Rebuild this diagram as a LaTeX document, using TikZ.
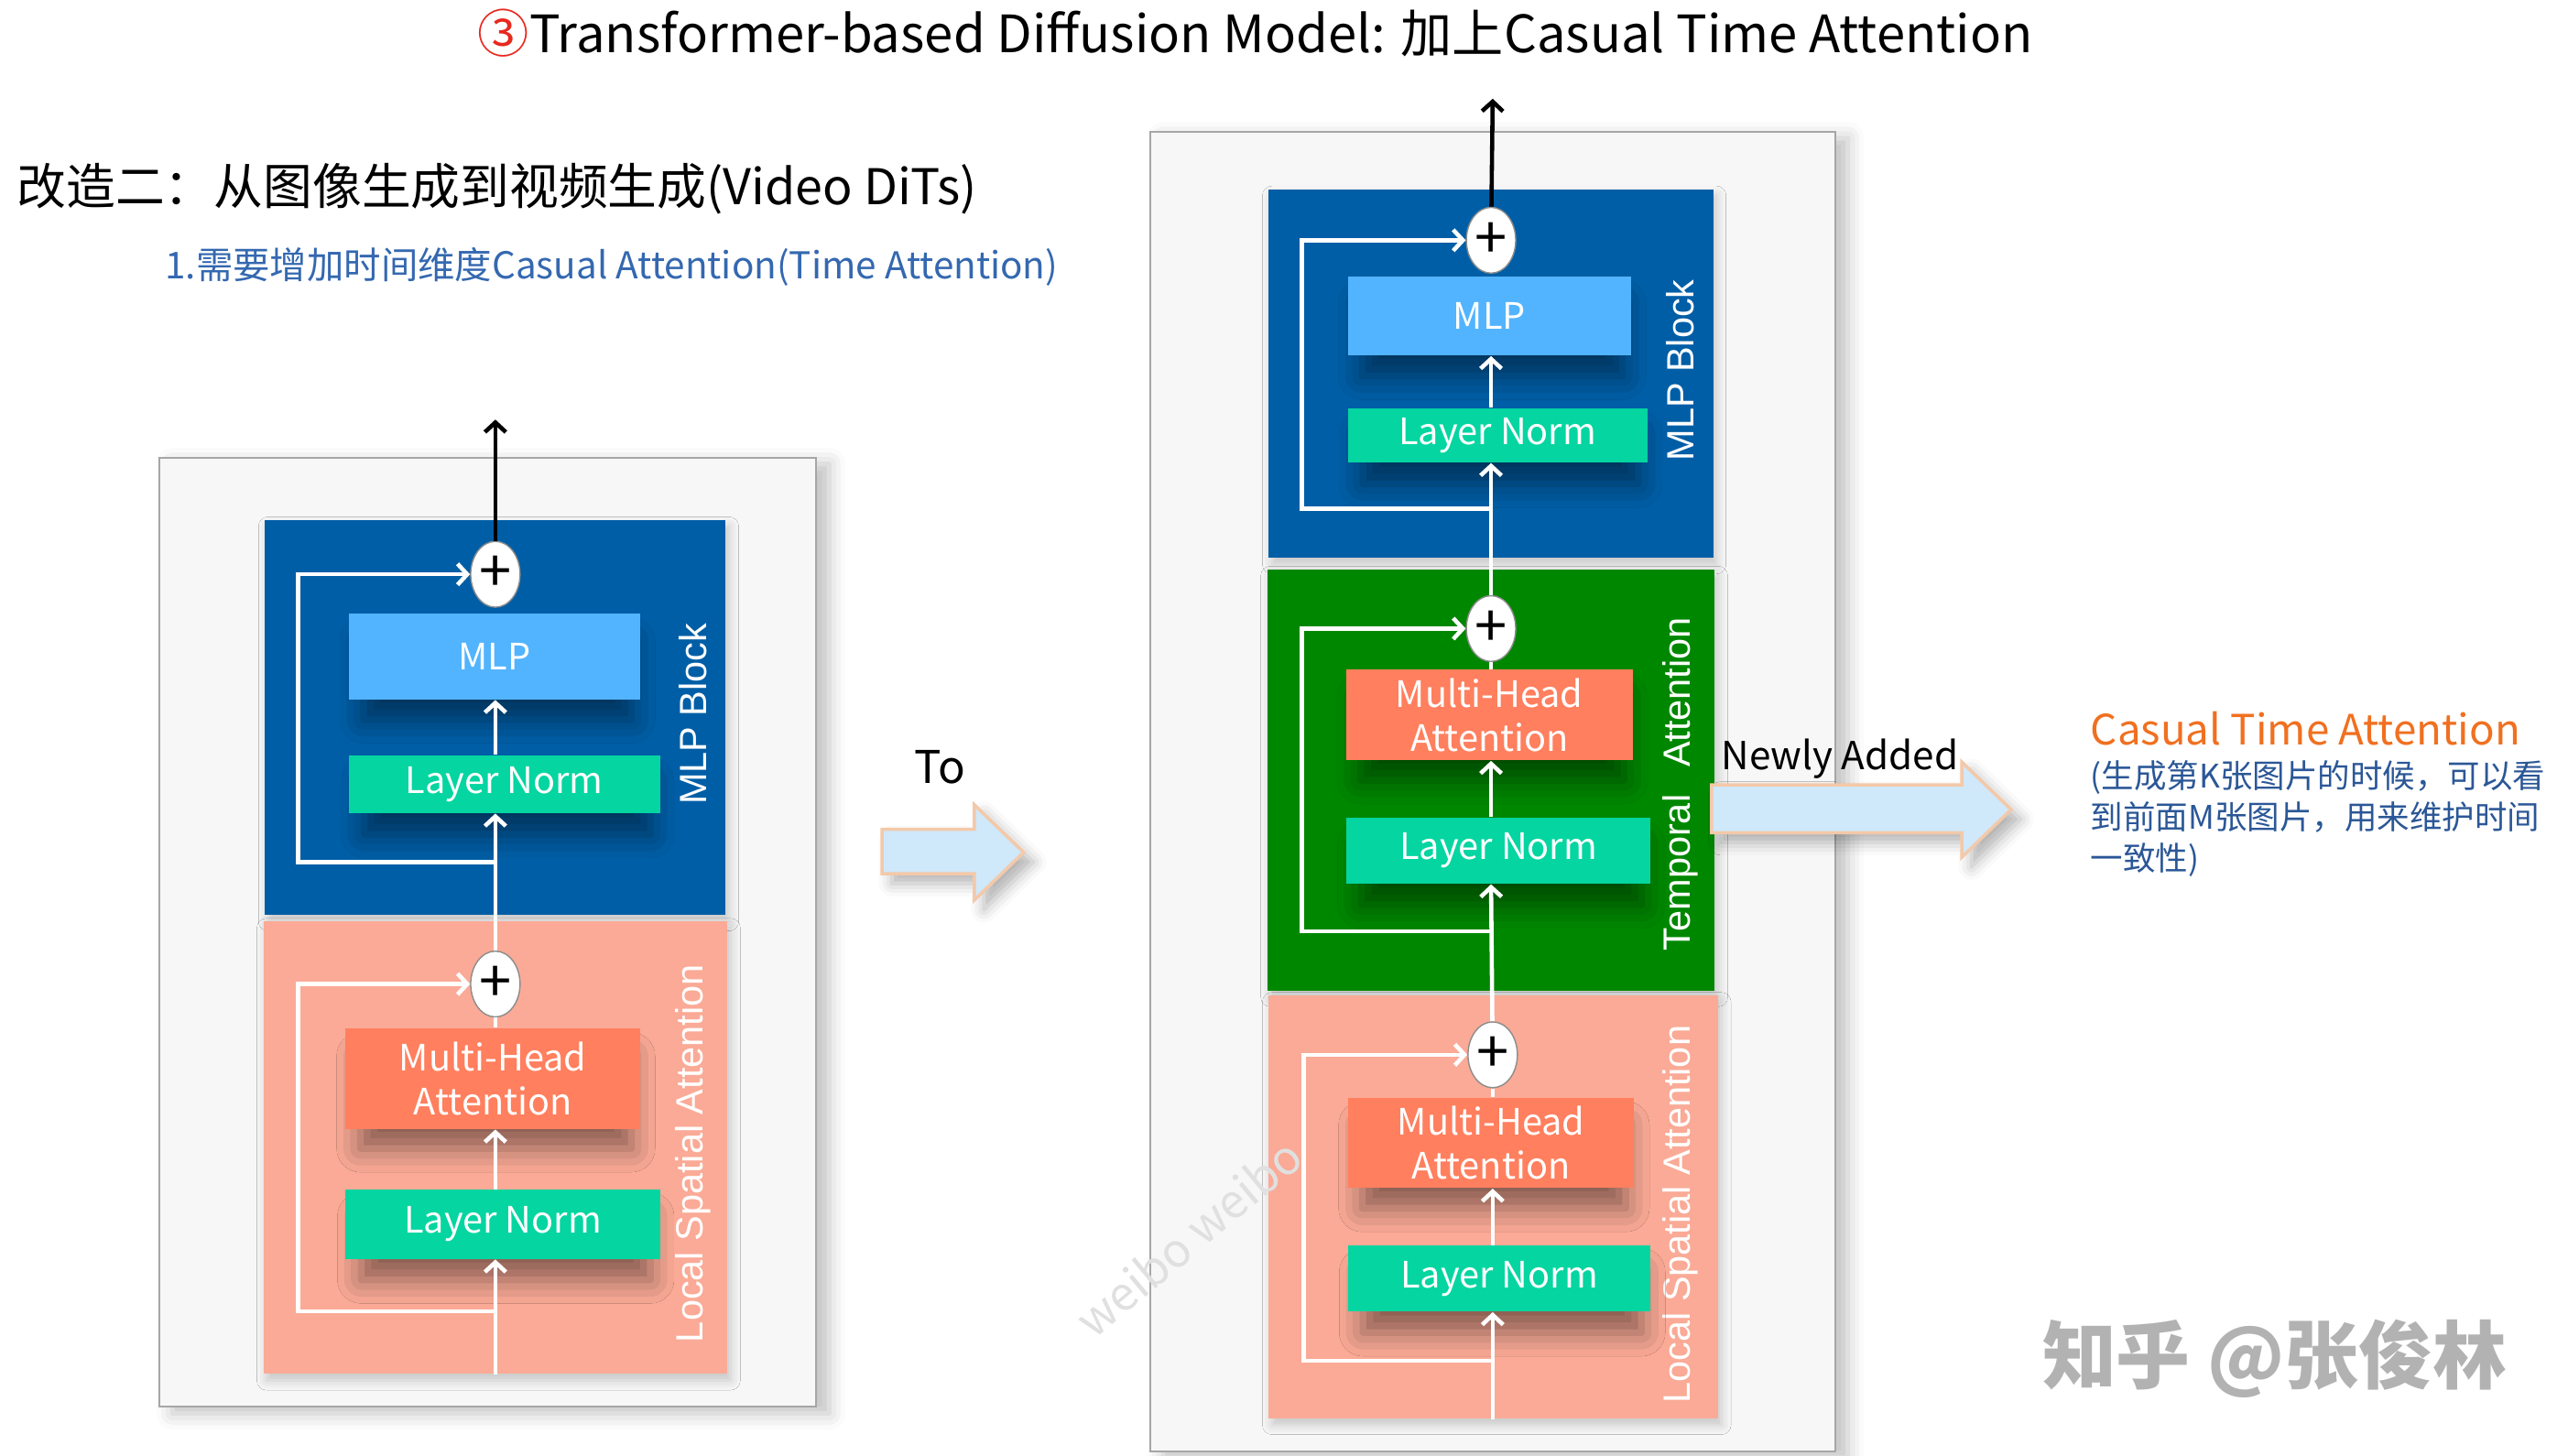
\documentclass[tikz,border=0pt]{standalone}
\usepackage{fontspec}
\setmainfont{Noto Sans CJK SC}
\newfontfamily\sidefont{Liberation Sans}
\usetikzlibrary{arrows.meta,shapes.geometric,shadows.blur,calc}

\definecolor{panelgray}{HTML}{F7F7F7}
\definecolor{mlpblue}{HTML}{005EA6}
\definecolor{mlpcyan}{HTML}{52B4FF}
\definecolor{normgreen}{HTML}{05D5A1}
\definecolor{salmon}{HTML}{FAAA96}
\definecolor{attcoral}{HTML}{FF7F5E}
\definecolor{tempgreen}{HTML}{008700}
\definecolor{arrowfill}{HTML}{CFE8FA}
\definecolor{arrowedge}{HTML}{F3C9A9}
\definecolor{circred}{HTML}{E8281E}
\definecolor{noteblue}{HTML}{3468B0}
\definecolor{darkblue}{HTML}{2B5797}
\definecolor{orangetxt}{HTML}{F07020}

\newlength\px
\setlength\px{0.1797mm}

\tikzset{
  panel/.style={draw=black!35, fill=panelgray, line width=0.6pt,
    blur shadow={shadow xshift=4pt, shadow yshift=-2pt, shadow blur radius=5pt, shadow opacity=25}},
  block/.style={inner sep=0pt,
    blur shadow={shadow xshift=1pt, shadow yshift=-2pt, shadow blur radius=3pt, shadow opacity=20}},
  unit/.style={inner sep=0pt, text=white, align=center, font=\fontsize{11.3}{13.6}\selectfont,
    blur shadow={shadow xshift=1pt, shadow yshift=-8pt, shadow scale=0.92, shadow blur radius=8pt, shadow opacity=45}},
  sidelbl/.style={rotate=90, text=white, inner sep=0pt, font=\sidefont\fontsize{11.8}{12}\selectfont},
  plus/.style={ellipse, draw=black!45, fill=white, line width=0.4pt, inner sep=0pt,
    minimum width=30\px, minimum height=40\px, font=\fontsize{18}{18}\selectfont},
  wline/.style={draw=white, line width=1.3pt},
  bline/.style={draw=black, line width=1.3pt},
  bigarrow/.style={draw=arrowedge, fill=arrowfill, line width=1pt, line join=miter,
    blur shadow={shadow xshift=3pt, shadow yshift=-3pt, shadow blur radius=4pt, shadow opacity=30}},
}

\begin{document}
\begin{tikzpicture}[x=\px, y=-\px, >={Straight Barb[length=3pt,width=6.5pt]}]
    \useasboundingbox (0,0) rectangle (1560.4,884.8);

    % Headings
    \node[anchor=west, inner sep=0pt, font=\fontsize{16}{18}\selectfont] (title) at (290,20)
        {{\color{circred}③}Transformer-based Diffusion Model: 加上Casual Time Attention};
    \node[anchor=west, inner sep=0pt, font=\fontsize{15.3}{18}\selectfont] (subtitle) at (10,115)
        {改造二：从图像生成到视频生成(Video DiTs)};
    \node[anchor=west, inner sep=0pt, text=noteblue, font=\fontsize{11.5}{14}\selectfont] (note) at (100,162)
        {1.需要增加时间维度Casual Attention(Time Attention)};

    % Left diagram
    \node[panel, minimum width=399\px, minimum height=577\px] (panelL) at (296.5,566.5) {};
    \node[block, fill=mlpblue, minimum width=280\px, minimum height=240\px] (mlpBlkL) at (301,436) {};
    \node[block, fill=salmon, minimum width=282\px, minimum height=275\px] (spaBlkL) at (301,697.5) {};
    \node[sidelbl] (mlpTagL) at (421,434) {MLP Block};
    \node[sidelbl] (spaTagL) at (421,701) {Local Spatial Attention};
    \node[unit, fill=mlpcyan, minimum width=177\px, minimum height=52\px] (mlpL) at (300.5,399) {MLP};
    \node[unit, fill=normgreen, minimum width=189\px, minimum height=35\px] (normL1) at (306.5,476.5) {Layer Norm};
    \node[unit, fill=attcoral, minimum width=179\px, minimum height=61\px] (attL) at (299.5,655.5) {Multi-Head\\Attention};
    \node[unit, fill=normgreen, minimum width=191\px, minimum height=42\px] (normL2) at (305.5,744) {Layer Norm};
    \node[plus] (addL1) at (301,349) {+};
    \node[plus] (addL2) at (301,598) {+};
    \coordinate (outL) at (301,255);
    \coordinate (forkL1) at (301,524);
    \coordinate (forkL2) at (301,797);

    \draw[wline,->] (addL2 |- spaBlkL.south) -- (addL2 |- normL2.south);
    \draw[wline,->] (forkL2) -- ++(-120,0) |- (addL2);
    \draw[wline,->] (addL2 |- normL2.north) -- (addL2 |- attL.south);
    \draw[wline] (addL2 |- attL.north) -- (addL2);
    \draw[wline,->] (addL2) -- (addL1 |- normL1.south);
    \draw[wline,->] (forkL1) -- ++(-120,0) |- (addL1);
    \draw[wline,->] (addL1 |- normL1.north) -- (addL1 |- mlpL.south);
    \draw[bline,->] (addL1) -- (outL);

    % To arrow
    \node[inner sep=0pt, font=\fontsize{14}{16}\selectfont] (toLbl) at (571,466) {To};
    \draw[bigarrow] (536,504) -- (592,504) -- (592,489) -- (622,518) -- (592,547) -- (592,531) -- (536,531) -- cycle;

    % Right diagram
    \node[panel, minimum width=416\px, minimum height=802\px] (panelR) at (907,481) {};
    \node[block, fill=mlpblue, minimum width=270\px, minimum height=224\px] (mlpBlkR) at (906,227) {};
    \node[block, fill=tempgreen, minimum width=272\px, minimum height=256\px] (tmpBlkR) at (906,474) {};
    \node[block, fill=salmon, minimum width=273\px, minimum height=257\px] (spaBlkR) at (907.5,733.5) {};
    \node[sidelbl] (mlpTagR) at (1021,225) {MLP Block};
    \node[sidelbl] (tmpTagR) at (1021,476.5) {Temporal\hspace{8.5pt}Attention};
    \node[sidelbl] (spaTagR) at (1021,738) {Local Spatial Attention};
    \node[unit, fill=mlpcyan, minimum width=172\px, minimum height=48\px] (mlpR) at (905,192) {MLP};
    \node[unit, fill=normgreen, minimum width=182\px, minimum height=33\px] (normR1) at (910,264.5) {Layer Norm};
    \node[unit, fill=attcoral, minimum width=174\px, minimum height=55\px] (attR2) at (905,434.5) {Multi-Head\\Attention};
    \node[unit, fill=normgreen, minimum width=185\px, minimum height=40\px] (normR2) at (910.5,517) {Layer Norm};
    \node[unit, fill=attcoral, minimum width=174\px, minimum height=55\px] (attR3) at (906,694.5) {Multi-Head\\Attention};
    \node[unit, fill=normgreen, minimum width=184\px, minimum height=40\px] (normR3) at (911,777) {Layer Norm};
    \node[plus] (addR1) at (906,146) {+};
    \node[plus] (addR2) at (906,382) {+};
    \node[plus] (addR3) at (907,641) {+};
    \coordinate (outR) at (907,60);
    \coordinate (forkR1) at (906,309);
    \coordinate (forkR2) at (906,566);
    \coordinate (forkR3) at (907,827);

    \draw[wline,->] (addR3 |- spaBlkR.south) -- (addR3 |- normR3.south);
    \draw[wline,->] (forkR3) -- ++(-115,0) |- (addR3);
    \draw[wline,->] (addR3 |- normR3.north) -- (addR3 |- attR3.south);
    \draw[wline] (addR3 |- attR3.north) -- (addR3);
    \draw[wline,->] (addR3) -- (addR2 |- normR2.south);
    \draw[wline,->] (forkR2) -- ++(-115,0) |- (addR2);
    \draw[wline,->] (addR2 |- normR2.north) -- (addR2 |- attR2.south);
    \draw[wline] (addR2 |- attR2.north) -- (addR2);
    \draw[wline,->] (addR2) -- (addR1 |- normR1.south);
    \draw[wline,->] (forkR1) -- ++(-115,0) |- (addR1);
    \draw[wline,->] (addR1 |- normR1.north) -- (addR1 |- mlpR.south);
    \draw[bline,->] (addR1) -- (outR);

    % Newly added
    \draw[bigarrow] (1040,477) -- (1192,477) -- (1192,463) -- (1222,492) -- (1192,521) -- (1192,506) -- (1040,506) -- cycle;
    \node[inner sep=0pt, font=\fontsize{12}{14}\selectfont] (newLbl) at (1118,461) {Newly Added};

    % Right notes
    \node[anchor=west, inner sep=0pt, text=orangetxt, font=\fontsize{13}{15}\selectfont] (ctaLbl) at (1270,443)
        {Casual Time Attention};
    \node[anchor=north west, inner sep=0pt, align=left, text=darkblue, font=\fontsize{10.1}{12.8}\selectfont] (ctaNote) at (1270,462)
        {(生成第K张图片的时候，可以看\\到前面M张图片，用来维护时间\\一致性)};

    % Watermarks
    \node[rotate=40, inner sep=0pt, text=black!12, font=\fontsize{14.5}{16}\selectfont] (weibo) at (722,752) {weibo weibo};
    \node[inner sep=0pt, text=black!30, font=\bfseries\fontsize{23}{26}\selectfont] (zhihu) at (1382,826) {知乎 @张俊林};
\end{tikzpicture}
\end{document}
